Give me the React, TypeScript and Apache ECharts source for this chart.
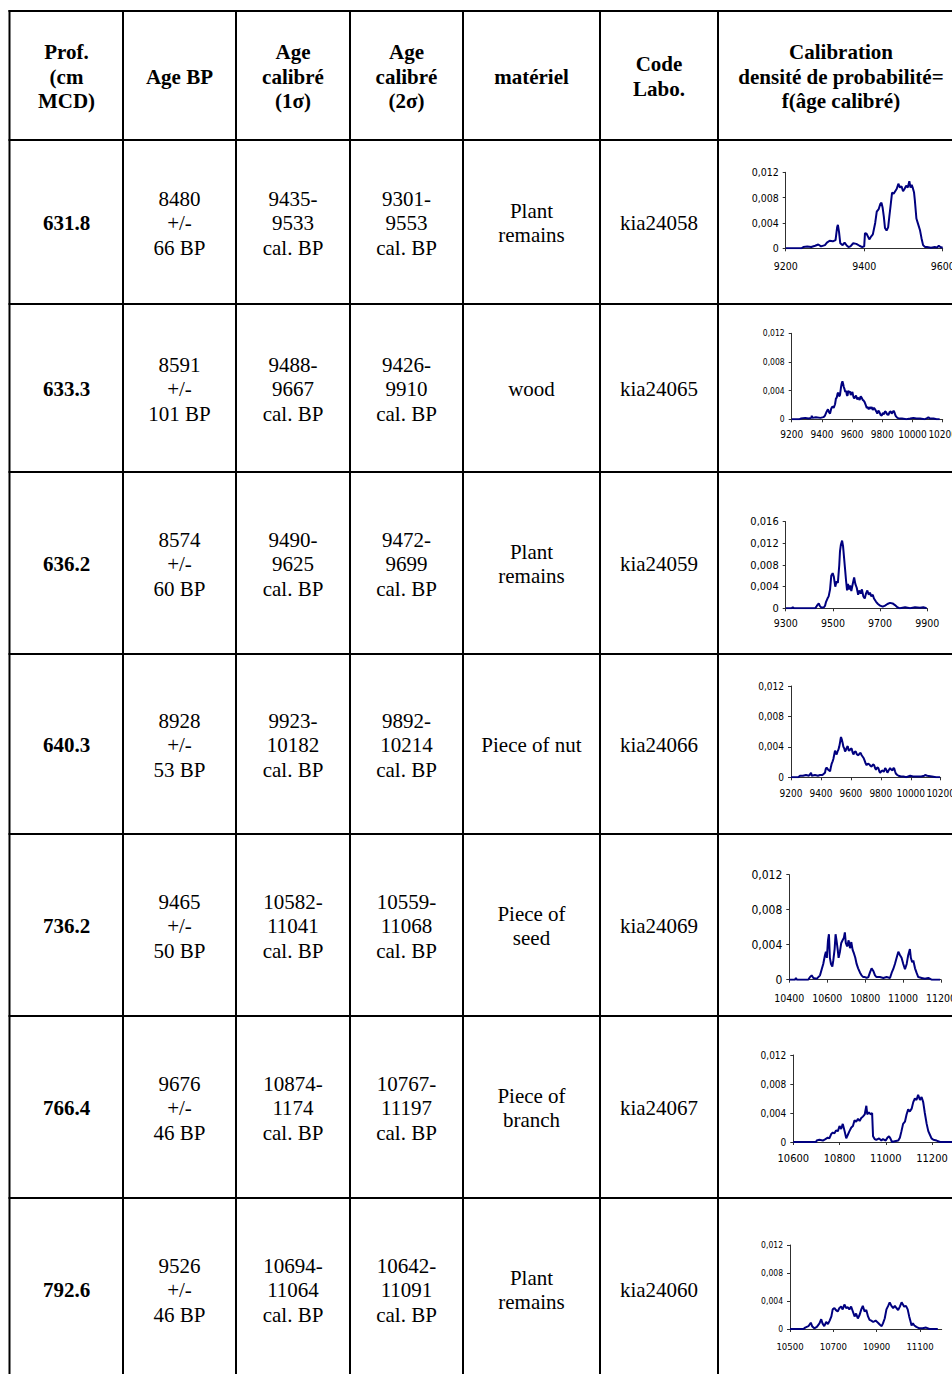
import React, { useEffect, useRef } from "react";
import * as echarts from "echarts";

// ---------- Table data ----------
const headers = [
  "Prof.\n(cm\nMCD)",
  "Age BP",
  "Age\ncalibré\n(1σ)",
  "Age\ncalibré\n(2σ)",
  "matériel",
  "Code\nLabo.",
  "Calibration\ndensité de probabilité=\nf(âge calibré)",
];
const depths = ["631.8", "633.3", "636.2", "640.3", "736.2", "766.4", "792.6"];
const agesBP = ["8480", "8591", "8574", "8928", "9465", "9676", "9526"];
const ageErrors = ["66", "101", "60", "53", "50", "46", "46"];
const cal1Start = ["9435", "9488", "9490", "9923", "10582", "10874", "10694"];
const cal1End = ["9533", "9667", "9625", "10182", "11041", "1174", "11064"];
const cal2Start = ["9301", "9426", "9472", "9892", "10559", "10767", "10642"];
const cal2End = ["9553", "9910", "9699", "10214", "11068", "11197", "11091"];
const materials = ["Plant\nremains", "wood", "Plant\nremains", "Piece of nut", "Piece of\nseed", "Piece of\nbranch", "Plant\nremains"];
const labCodes = ["kia24058", "kia24065", "kia24059", "kia24066", "kia24069", "kia24067", "kia24060"];

// ---------- Calibration curves (calibrated age, probability density) ----------
const curve631 = [
  [9200, 0], [9240, 0], [9245, 0.0002], [9255, 0.0003], [9265, 0.0002], [9275, 0.0004], [9283, 0.0006], [9290, 0.0003],
  [9300, 0.0005], [9305, 0.0009], [9312, 0.0012], [9320, 0.0011], [9327, 0.0013], [9331, 0.0033], [9333, 0.0037],
  [9336, 0.0025], [9339, 0.0008], [9345, 0.0005], [9350, 0.0009], [9356, 0.0004], [9360, 0.0002], [9365, 0.0003],
  [9372, 0.0008], [9380, 0.0007], [9388, 0.0004], [9395, 0.0002], [9400, 0.0003], [9402, 0.0024], [9406, 0.0023],
  [9410, 0.0018], [9413, 0.0014], [9418, 0.0019], [9422, 0.0022], [9428, 0.004], [9432, 0.0058], [9437, 0.0062],
  [9441, 0.007], [9444, 0.0072], [9447, 0.0064], [9450, 0.005], [9453, 0.0032], [9457, 0.0028], [9461, 0.0033],
  [9464, 0.005], [9467, 0.0066], [9471, 0.0088], [9475, 0.0086], [9479, 0.009], [9483, 0.0094], [9487, 0.0102],
  [9491, 0.0096], [9495, 0.0098], [9499, 0.009], [9503, 0.0094], [9507, 0.0099], [9511, 0.0096], [9515, 0.0106],
  [9518, 0.0096], [9521, 0.01], [9524, 0.0095], [9527, 0.0088], [9529, 0.0076], [9533, 0.0047], [9537, 0.0039],
  [9542, 0.0029], [9546, 0.0016], [9550, 0.0005], [9555, 0.0002], [9560, 0.0002], [9570, 0.0001], [9580, 0.0002],
  [9585, 0.0001], [9590, 0.0004], [9594, 0.0002], [9600, 0.0001],
];
const curve633 = [
  [9200, 0], [9250, 0], [9260, 0.0001], [9290, 0.0002], [9310, 0.0001], [9330, 0.0002], [9333, 0.0005], [9337, 0.0002],
  [9360, 0.0003], [9390, 0.0002], [9410, 0.0003], [9420, 0.0005], [9432, 0.0011], [9440, 0.0014], [9447, 0.001],
  [9454, 0.0008], [9462, 0.0015], [9470, 0.0018], [9478, 0.0016], [9487, 0.0021], [9493, 0.0029], [9498, 0.003],
  [9504, 0.0036], [9509, 0.0037], [9514, 0.0032], [9520, 0.0034], [9526, 0.0044], [9531, 0.005], [9536, 0.0053],
  [9540, 0.005], [9545, 0.0045], [9550, 0.0042], [9555, 0.0038], [9560, 0.004], [9565, 0.0034], [9570, 0.0033],
  [9575, 0.004], [9580, 0.0037], [9586, 0.0039], [9591, 0.0034], [9597, 0.0036], [9602, 0.0038], [9608, 0.0032],
  [9613, 0.0029], [9620, 0.0031], [9626, 0.0033], [9633, 0.0028], [9642, 0.003], [9650, 0.0027], [9657, 0.0032],
  [9664, 0.003], [9670, 0.0027], [9677, 0.0026], [9683, 0.0024], [9690, 0.002], [9697, 0.0016], [9704, 0.0017],
  [9710, 0.0014], [9717, 0.0017], [9723, 0.0015], [9730, 0.0017], [9737, 0.0013], [9745, 0.0016], [9752, 0.0014],
  [9760, 0.0011], [9767, 0.0008], [9774, 0.0012], [9781, 0.001], [9789, 0.0006], [9796, 0.0005], [9804, 0.0009],
  [9812, 0.0007], [9818, 0.0011], [9825, 0.001], [9832, 0.0007], [9840, 0.0006], [9848, 0.001], [9856, 0.0011],
  [9862, 0.0008], [9869, 0.001], [9875, 0.0012], [9880, 0.001], [9886, 0.0006], [9891, 0.0004], [9900, 0.0002],
  [9915, 0.0001], [9930, 0.0001], [9960, 0], [9985, 0.0001], [10006, 0.0002], [10025, 0.0001], [10050, 0.0001],
  [10080, 0], [10100, 0.0002], [10105, 0.0003], [10115, 0.0001], [10140, 0.0001], [10160, 0], [10180, 0],
];
const curve636 = [
  [9300, 0], [9325, 0], [9330, 0.0002], [9335, 0], [9425, 0], [9430, 0.0003], [9434, 0.0006], [9440, 0.0009],
  [9445, 0.0004], [9452, 0.0001], [9462, 0.0002], [9467, 0.0005], [9471, 0.0012], [9477, 0.0018], [9482, 0.0022],
  [9488, 0.0035], [9493, 0.006], [9499, 0.0065], [9504, 0.0058], [9510, 0.004], [9516, 0.005], [9521, 0.0047],
  [9527, 0.008], [9530, 0.0105], [9534, 0.0118], [9539, 0.0125], [9543, 0.0115], [9547, 0.0095], [9551, 0.0075],
  [9556, 0.005], [9560, 0.0033], [9564, 0.0045], [9568, 0.0035], [9573, 0.0042], [9578, 0.0032], [9584, 0.0045],
  [9590, 0.0057], [9595, 0.0045], [9601, 0.0038], [9607, 0.0025], [9612, 0.0033], [9618, 0.0027], [9623, 0.0035],
  [9629, 0.0022], [9635, 0.0018], [9640, 0.0027], [9646, 0.0033], [9652, 0.0025], [9657, 0.0029], [9663, 0.0022],
  [9669, 0.0025], [9674, 0.0018], [9683, 0.0012], [9691, 0.0008], [9700, 0.0005], [9711, 0.0003], [9721, 0.0005],
  [9731, 0.0008], [9742, 0.001], [9753, 0.0009], [9763, 0.0006], [9773, 0.0002], [9784, 0], [9806, 0.0002],
  [9827, 0], [9848, 0.0002], [9869, 0.0001], [9883, 0.0002], [9897, 0],
];
const curve640 = [
  [9200, 0], [9249, 0], [9260, 0.0002], [9280, 0.0002], [9300, 0.0003], [9320, 0.0002], [9334, 0.0006], [9338, 0.0002],
  [9360, 0.0003], [9380, 0.0002], [9394, 0.0003], [9410, 0.0003], [9427, 0.0006], [9432, 0.0011], [9438, 0.0013],
  [9444, 0.0011], [9449, 0.001], [9455, 0.0009], [9461, 0.0008], [9467, 0.0014], [9472, 0.0018], [9478, 0.0021],
  [9483, 0.0024], [9489, 0.003], [9494, 0.0035], [9500, 0.0032], [9505, 0.003], [9511, 0.0034], [9516, 0.0036],
  [9522, 0.004], [9527, 0.0045], [9531, 0.005], [9534, 0.0053], [9539, 0.005], [9545, 0.0045], [9550, 0.004],
  [9556, 0.0038], [9561, 0.0034], [9567, 0.0036], [9573, 0.0039], [9579, 0.0041], [9584, 0.0036], [9590, 0.0035],
  [9597, 0.0037], [9605, 0.0038], [9611, 0.0033], [9617, 0.003], [9624, 0.0033], [9632, 0.0034], [9640, 0.003],
  [9650, 0.0029], [9657, 0.0031], [9665, 0.0032], [9672, 0.0029], [9679, 0.0027], [9686, 0.0025], [9692, 0.0022],
  [9699, 0.0018], [9705, 0.0016], [9714, 0.0018], [9723, 0.0017], [9731, 0.0015], [9739, 0.0014], [9747, 0.0017],
  [9755, 0.0016], [9762, 0.0012], [9768, 0.001], [9776, 0.0013], [9784, 0.0012], [9790, 0.0008], [9795, 0.0006],
  [9804, 0.0008], [9813, 0.0009], [9820, 0.0007], [9829, 0.0012], [9836, 0.001], [9844, 0.0006], [9852, 0.0009],
  [9862, 0.0012], [9870, 0.001], [9878, 0.0009], [9884, 0.0012], [9889, 0.0012], [9895, 0.0008], [9900, 0.0005],
  [9910, 0.0003], [9918, 0.0002], [9935, 0.0001], [9951, 0.0001], [9970, 0], [9996, 0.0002], [10015, 0.0001],
  [10041, 0.0001], [10070, 0.0001], [10090, 0.0002], [10096, 0.0003], [10110, 0.0002], [10141, 0.0001], [10170, 0],
  [10196, 0],
];
const curve736 = [
  [10400, 0], [10430, 0], [10435, 0.0002], [10440, 0], [10500, 0], [10509, 0.0003], [10518, 0.0005], [10527, 0.0002],
  [10544, 0.0001], [10562, 0.0005], [10571, 0.0012], [10579, 0.0018], [10588, 0.0028], [10593, 0.0032],
  [10598, 0.0025], [10604, 0.0045], [10609, 0.0052], [10614, 0.0025], [10620, 0.0018], [10627, 0.0015],
  [10632, 0.0022], [10639, 0.0035], [10644, 0.0052], [10649, 0.0045], [10655, 0.0035], [10660, 0.0025],
  [10667, 0.0032], [10674, 0.0042], [10681, 0.0045], [10688, 0.0048], [10693, 0.0054], [10698, 0.0042],
  [10705, 0.0038], [10713, 0.0045], [10720, 0.0036], [10727, 0.0043], [10734, 0.0034], [10741, 0.003],
  [10748, 0.0025], [10755, 0.0018], [10763, 0.0013], [10773, 0.0008], [10781, 0.0005], [10790, 0.0003],
  [10799, 0.0003], [10808, 0.0002], [10817, 0.0003], [10825, 0.0008], [10834, 0.0013], [10843, 0.001],
  [10852, 0.0005], [10860, 0.0003], [10878, 0.0003], [10896, 0.0002], [10913, 0.0003], [10931, 0.0002],
  [10940, 0.0008], [10948, 0.0012], [10957, 0.0018], [10966, 0.0025], [10975, 0.0032], [10984, 0.0028],
  [10992, 0.0025], [11001, 0.0018], [11010, 0.0012], [11019, 0.0018], [11027, 0.0028], [11036, 0.0035],
  [11041, 0.0025], [11048, 0.002], [11054, 0.0022], [11063, 0.0013], [11071, 0.0008], [11080, 0.0003],
  [11098, 0.0002], [11115, 0.0001], [11133, 0.0002], [11150, 0], [11195, 0],
];
const curve766 = [
  [10600, 0], [10699, 0], [10701, 0.0002], [10713, 0.0003], [10728, 0.0002], [10739, 0.0004], [10749, 0.0006],
  [10756, 0.0005], [10764, 0.0011], [10771, 0.0013], [10778, 0.0012], [10785, 0.0016], [10793, 0.0015],
  [10800, 0.0022], [10807, 0.0018], [10814, 0.0025], [10822, 0.0015], [10829, 0.0005], [10836, 0.001],
  [10843, 0.0015], [10851, 0.002], [10858, 0.0022], [10865, 0.003], [10872, 0.0028], [10880, 0.0032],
  [10887, 0.0029], [10894, 0.0033], [10901, 0.0035], [10909, 0.0038], [10916, 0.005], [10920, 0.0038],
  [10927, 0.0041], [10935, 0.0038], [10941, 0.004], [10945, 0.0008], [10952, 0.0004], [10959, 0.0003],
  [10971, 0.0005], [10981, 0.0002], [10988, 0.0004], [11000, 0.0002], [11007, 0.0006], [11014, 0.0008],
  [11020, 0.0005], [11027, 0], [11039, 0.0001], [11054, 0.0002], [11061, 0.0006], [11068, 0.0015],
  [11075, 0.0025], [11083, 0.0028], [11090, 0.0038], [11097, 0.0045], [11104, 0.0042], [11112, 0.0046],
  [11119, 0.0055], [11126, 0.006], [11133, 0.0058], [11140, 0.0065], [11148, 0.0058], [11155, 0.0062],
  [11162, 0.0055], [11169, 0.004], [11177, 0.0025], [11184, 0.0015], [11191, 0.001], [11198, 0.0005],
  [11206, 0.0003], [11220, 0.0002], [11235, 0], [11290, 0],
];
const curve792 = [
  [10500, 0], [10562, 0], [10570, 0.0002], [10585, 0.0004], [10596, 0.0009], [10602, 0.0004], [10612, 0.0001],
  [10624, 0.0003], [10636, 0.0008], [10644, 0.0014], [10650, 0.0008], [10658, 0.0004], [10667, 0.001],
  [10675, 0.0007], [10683, 0.0012], [10691, 0.0018], [10697, 0.0028], [10705, 0.003], [10712, 0.0027],
  [10720, 0.0025], [10728, 0.003], [10736, 0.0032], [10743, 0.0028], [10751, 0.0035], [10759, 0.003],
  [10767, 0.0031], [10774, 0.0028], [10782, 0.0032], [10790, 0.0025], [10798, 0.0018], [10805, 0.0022],
  [10813, 0.0015], [10821, 0.002], [10829, 0.0028], [10836, 0.0033], [10844, 0.0025], [10852, 0.0027],
  [10860, 0.0018], [10867, 0.0013], [10875, 0.0012], [10884, 0.001], [10895, 0.0012], [10906, 0.0009],
  [10915, 0.0006], [10923, 0.0004], [10929, 0.0008], [10937, 0.0015], [10945, 0.0028], [10953, 0.0033],
  [10960, 0.0038], [10968, 0.0033], [10976, 0.003], [10984, 0.0033], [10991, 0.003], [10999, 0.0027],
  [11007, 0.0032], [11015, 0.0038], [11021, 0.0035], [11027, 0.0032], [11035, 0.0033], [11043, 0.0028],
  [11050, 0.0018], [11055, 0.0012], [11061, 0.0005], [11067, 0.0008], [11074, 0.0005], [11083, 0.0003],
  [11097, 0.0001], [11112, 0.0001], [11128, 0.0002], [11143, 0], [11182, 0],
];

const curves = [curve631, curve633, curve636, curve640, curve736, curve766, curve792];
const xRanges = [
  [9200, 9600], [9200, 10200], [9300, 9900], [9200, 10200], [10400, 11200], [10600, 11300], [10500, 11200],
];
const xTickLabels = [
  [9200, 9400, 9600],
  [9200, 9400, 9600, 9800, 10000, 10200],
  [9300, 9500, 9700, 9900],
  [9200, 9400, 9600, 9800, 10000, 10200],
  [10400, 10600, 10800, 11000, 11200],
  [10600, 10800, 11000, 11200],
  [10500, 10700, 10900, 11100],
];
const yMaxes = [0.012, 0.012, 0.016, 0.012, 0.012, 0.012, 0.012];

// ---------- Layout (pixels) ----------
const hLines = [11, 140, 304, 472, 654, 834, 1016, 1198];
const vLines = [9.5, 123, 236, 350, 463, 600, 718];
const colCenters = [66.5, 179.5, 293, 406.5, 531.5, 659, 841];
const rowCenters = [223, 389, 564, 745, 926, 1108, 1290];
const gridBoxes = [
  { left: 785.7, top: 172.3, width: 157, height: 76, xFont: 10.5, yFont: 10.5, xMargin: 12 },
  { left: 791.7, top: 333.3, width: 151, height: 86, xFont: 10, yFont: 8.5, xMargin: 10 },
  { left: 785.7, top: 521.7, width: 141.6, height: 86.6, xFont: 10.5, yFont: 11, xMargin: 9 },
  { left: 791, top: 686, width: 149.7, height: 91.3, xFont: 10, yFont: 10, xMargin: 11 },
  { left: 789.3, top: 874.7, width: 151.7, height: 105, xFont: 10.5, yFont: 12, xMargin: 13 },
  { left: 793.3, top: 1055, width: 161.8, height: 87, xFont: 11, yFont: 10, xMargin: 11 },
  { left: 790, top: 1245, width: 151.7, height: 84, xFont: 9.5, yFont: 8.5, xMargin: 12 },
];

const SERIF = "'Liberation Serif', 'Times New Roman', serif";
const NARROW = "'Liberation Sans Narrow', 'DejaVu Sans Condensed', 'Arial Narrow', sans-serif";

function textEl(text: string, x: number, y: number, bold: boolean) {
  return {
    type: "text",
    silent: true,
    style: {
      text,
      x,
      y,
      align: "center",
      verticalAlign: "middle",
      fontFamily: SERIF,
      fontSize: 21,
      fontWeight: bold ? "bold" : "normal",
      lineHeight: 24.5,
      fill: "#000",
    },
  };
}

function buildOption() {
  const graphic: any[] = [];
  hLines.forEach((y) =>
    graphic.push({ type: "line", silent: true, shape: { x1: 8.5, y1: y, x2: 952, y2: y }, style: { stroke: "#000", lineWidth: 2 } })
  );
  vLines.forEach((x) =>
    graphic.push({ type: "line", silent: true, shape: { x1: x, y1: 10, x2: x, y2: 1374 }, style: { stroke: "#000", lineWidth: 2 } })
  );
  headers.forEach((h, i) => graphic.push(textEl(h, colCenters[i], 76.5, true)));
  depths.forEach((d, r) => {
    const y = rowCenters[r];
    graphic.push(textEl(d, colCenters[0], y, true));
    graphic.push(textEl(`${agesBP[r]}\n+/-\n${ageErrors[r]} BP`, colCenters[1], y, false));
    graphic.push(textEl(`${cal1Start[r]}-\n${cal1End[r]}\ncal. BP`, colCenters[2], y, false));
    graphic.push(textEl(`${cal2Start[r]}-\n${cal2End[r]}\ncal. BP`, colCenters[3], y, false));
    graphic.push(textEl(materials[r], colCenters[4], y, false));
    graphic.push(textEl(labCodes[r], colCenters[5], y, false));
  });

  const grid = gridBoxes.map((b) => ({
    left: b.left,
    top: b.top,
    width: b.width,
    height: b.height,
    containLabel: false,
    outerBoundsMode: "none",
  }));
  const xAxis = gridBoxes.map((b, i) => ({
    type: "value",
    gridIndex: i,
    min: xRanges[i][0],
    max: xRanges[i][1],
    interval: 100,
    splitLine: { show: false },
    axisLine: { show: true, onZero: false, lineStyle: { color: "#303030", width: 1 } },
    axisTick: { show: true, length: 3, customValues: xTickLabels[i], lineStyle: { color: "#303030" } },
    axisLabel: {
      show: true,
      customValues: xTickLabels[i],
      fontFamily: NARROW,
      fontSize: b.xFont,
      color: "#000",
      margin: b.xMargin,
      formatter: (v: number) => String(v),
    },
  }));
  const yAxis = gridBoxes.map((b, i) => ({
    type: "value",
    gridIndex: i,
    min: 0,
    max: yMaxes[i],
    interval: 0.004,
    splitLine: { show: false },
    axisLine: { show: true, lineStyle: { color: "#303030", width: 1 } },
    axisTick: { show: true, length: 3, lineStyle: { color: "#303030" } },
    axisLabel: {
      show: true,
      fontFamily: NARROW,
      fontSize: b.yFont,
      color: "#000",
      margin: 7,
      formatter: (v: number) => (v === 0 ? "0" : v.toFixed(3).replace(".", ",")),
    },
  }));
  const series = curves.map((c, i) => ({
    type: "line",
    xAxisIndex: i,
    yAxisIndex: i,
    data: c,
    showSymbol: false,
    symbol: "none",
    silent: true,
    lineStyle: { color: "#00007f", width: 2 },
  }));

  return {
    animation: false,
    backgroundColor: "#fff",
    grid,
    xAxis,
    yAxis,
    series,
    graphic: { elements: graphic },
  };
}

export default function App() {
  const ref = useRef<HTMLDivElement>(null);
  useEffect(() => {
    if (!ref.current) return;
    const chart = echarts.init(ref.current, undefined, { renderer: "svg" });
    chart.setOption(buildOption() as any);
    return () => chart.dispose();
  }, []);
  return (
    <div
      ref={ref}
      style={{ position: "absolute", left: 0, top: 0, width: 952, height: 1374, background: "#fff" }}
    />
  );
}
